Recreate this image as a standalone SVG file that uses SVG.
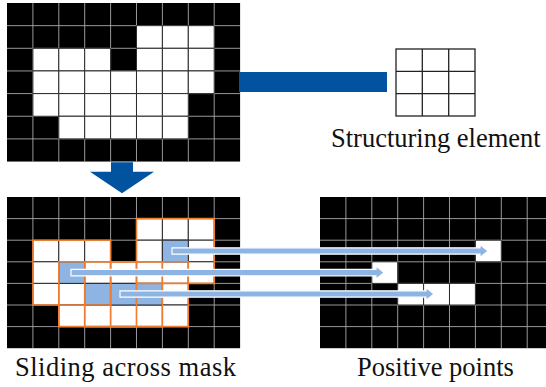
<svg xmlns="http://www.w3.org/2000/svg" width="546" height="387" viewBox="0 0 546 387">
  <style>
    .bg { fill: #000; }
    .gl { fill: none; stroke: #a9a9a9; stroke-width: 0.9; vector-effect: non-scaling-stroke; }
    .w { fill: #fff; stroke: #2a2a2a; stroke-width: 1; vector-effect: non-scaling-stroke; }
    .hl { fill: #8db4e2; stroke: #2a2a2a; stroke-width: 1; vector-effect: non-scaling-stroke; }
    .se { fill: none; stroke: #ed7d31; stroke-width: 1.6; vector-effect: non-scaling-stroke; }
    .sel { fill: #fff; stroke: #222; stroke-width: 1.3; }
    .big { fill: #02539f; }
    .slide { fill: #8db4e2; stroke: #fff; stroke-width: 1.2; }
    .lbl { font-size: 26.5px; fill: #111; }
  </style>
  <defs>
    <!-- 9x7 black field with light grid lines, in cell units -->
    <g id="field">
      <rect class="bg" x="0" y="0" width="9" height="7"/>
      <path class="gl" d="M1 0V7M2 0V7M3 0V7M4 0V7M5 0V7M6 0V7M7 0V7M8 0V7M0 1H9M0 2H9M0 3H9M0 4H9M0 5H9M0 6H9"/>
    </g>
    <!-- white cells of the mask -->
    <g id="maskCells">
      <rect class="w" x="5" y="1" width="1" height="1"/><rect class="w" x="6" y="1" width="1" height="1"/><rect class="w" x="7" y="1" width="1" height="1"/>
      <rect class="w" x="1" y="2" width="1" height="1"/><rect class="w" x="2" y="2" width="1" height="1"/><rect class="w" x="3" y="2" width="1" height="1"/>
      <rect class="w" x="5" y="2" width="1" height="1"/><rect class="w" x="6" y="2" width="1" height="1"/><rect class="w" x="7" y="2" width="1" height="1"/>
      <rect class="w" x="1" y="3" width="1" height="1"/><rect class="w" x="2" y="3" width="1" height="1"/><rect class="w" x="3" y="3" width="1" height="1"/>
      <rect class="w" x="4" y="3" width="1" height="1"/><rect class="w" x="5" y="3" width="1" height="1"/><rect class="w" x="6" y="3" width="1" height="1"/>
      <rect class="w" x="7" y="3" width="1" height="1"/>
      <rect class="w" x="1" y="4" width="1" height="1"/><rect class="w" x="2" y="4" width="1" height="1"/><rect class="w" x="3" y="4" width="1" height="1"/>
      <rect class="w" x="4" y="4" width="1" height="1"/><rect class="w" x="5" y="4" width="1" height="1"/><rect class="w" x="6" y="4" width="1" height="1"/>
      <rect class="w" x="2" y="5" width="1" height="1"/><rect class="w" x="3" y="5" width="1" height="1"/><rect class="w" x="4" y="5" width="1" height="1"/>
      <rect class="w" x="5" y="5" width="1" height="1"/><rect class="w" x="6" y="5" width="1" height="1"/>
    </g>
  </defs>

  <!-- input mask -->
  <g id="mask" transform="translate(7,3) scale(25.9,22.65)">
    <use href="#field"/>
    <use href="#maskCells"/>
  </g>

  <!-- bar towards the structuring element -->
  <g id="link">
    <rect class="big" x="239" y="72" width="148" height="20"/>
  </g>

  <!-- structuring element 3x3 -->
  <g id="structuring-element">
    <rect class="sel" x="396" y="49" width="79" height="67"/>
    <path fill="none" stroke="#222" stroke-width="1.3" d="M422.3 49V116M448.7 49V116M396 71.3H475M396 93.7H475"/>
    <text class="lbl" x="331" y="146.5" font-family="'Liberation Serif', 'Times New Roman', 'DejaVu Serif', serif">Structuring element</text>
  </g>

  <!-- downward arrow -->
  <g id="down-arrow">
    <polygon class="big" points="111,162.3 133,162.3 133,171.7 154,171.7 122,193.3 90,171.7 111,171.7"/>
  </g>

  <!-- sliding the element across the mask -->
  <g id="sliding">
    <g transform="translate(7,197) scale(25.9,21.6)">
      <use href="#field"/>
      <use href="#maskCells"/>
      <rect class="hl" x="6" y="2" width="1" height="1"/>
      <rect class="hl" x="2" y="3" width="1" height="1"/>
      <rect class="hl" x="3" y="4" width="1" height="1"/>
      <rect class="hl" x="4" y="4" width="1" height="1"/>
      <rect class="hl" x="5" y="4" width="1" height="1"/>
      <rect class="se" x="5" y="1" width="3" height="3"/>
      <rect class="se" x="1" y="2" width="3" height="3"/>
      <rect class="se" x="2" y="3" width="3" height="3"/>
      <rect class="se" x="3" y="3" width="3" height="3"/>
      <rect class="se" x="4" y="3" width="3" height="3"/>
    </g>
    <text class="lbl" x="15" y="376" textLength="221" lengthAdjust="spacing" font-family="'Liberation Serif', 'Times New Roman', 'DejaVu Serif', serif">Sliding across mask</text>
  </g>

  <!-- resulting positive points -->
  <g id="positive">
    <g transform="translate(320,197) scale(25.9,21.6)">
      <use href="#field"/>
      <rect class="w" x="6" y="2" width="1" height="1"/>
      <rect class="w" x="2" y="3" width="1" height="1"/>
      <rect class="w" x="3" y="4" width="1" height="1"/>
      <rect class="w" x="4" y="4" width="1" height="1"/>
      <rect class="w" x="5" y="4" width="1" height="1"/>
    </g>
    <text class="lbl" x="357" y="376" font-family="'Liberation Serif', 'Times New Roman', 'DejaVu Serif', serif">Positive points</text>
  </g>

  <!-- connectors from centre cells to output points -->
  <g id="connectors">
    <polygon class="slide" points="172,247.8 480,247.8 480,244.5 488,251 480,257.5 480,254.2 172,254.2"/>
    <polygon class="slide" points="71,269.4 376,269.4 376,266.1 384,272.6 376,279.1 376,275.8 71,275.8"/>
    <polygon class="slide" points="120,290.8 426,290.8 426,287.5 434,294 426,300.5 426,297.2 120,297.2"/>
  </g>
</svg>
